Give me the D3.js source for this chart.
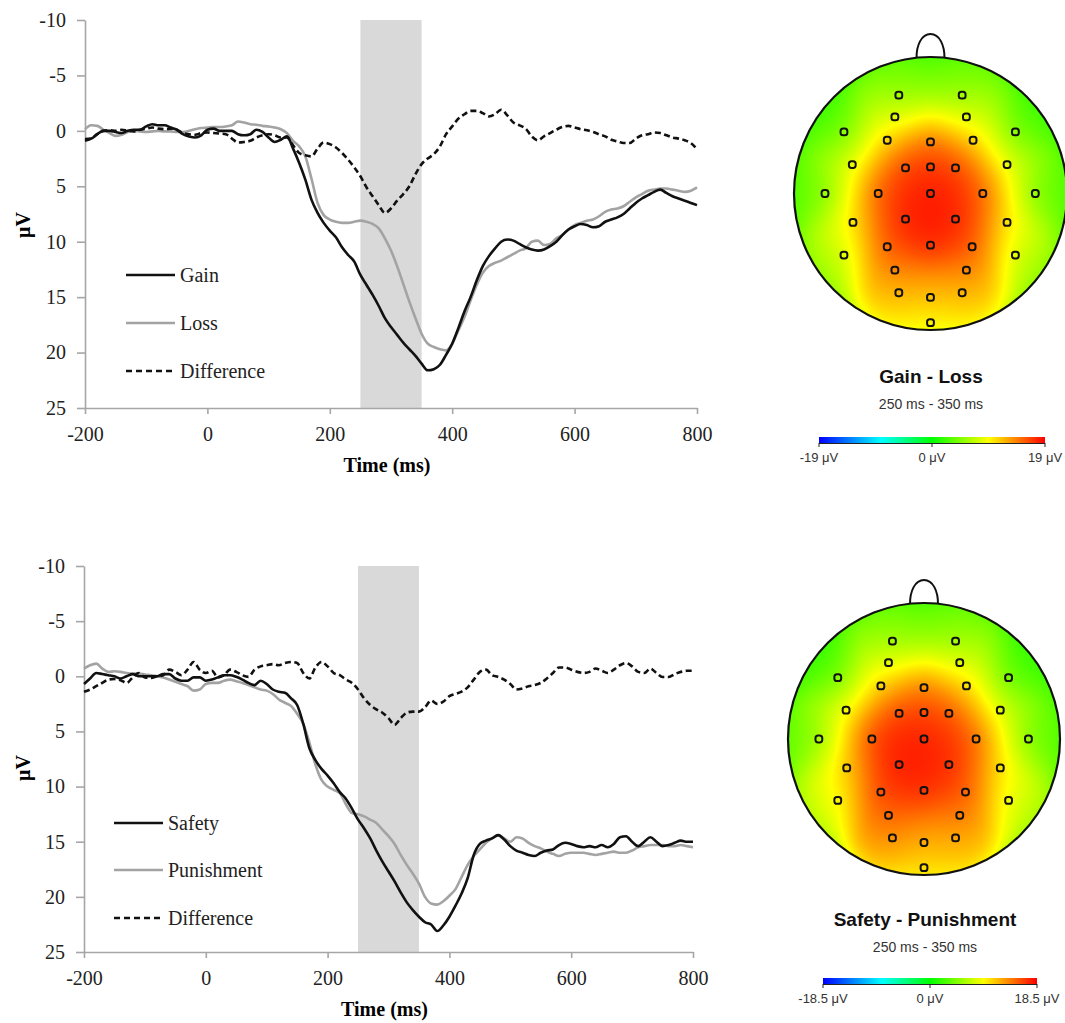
<!DOCTYPE html>
<html>
<head>
<meta charset="utf-8">
<script src="https://cdn.jsdelivr.net/npm/d3@7"></script>
<style>
  body { margin: 0; background: #fff; }
</style>
</head>
<body>
<div id="fig"></div>
<script>
// sample times, every 10 ms
var times = d3.range(-200, 801, 10);

// ERP waveforms (μV)
var gain = [0.75,0.7,0.3,0,0,0.1,0.2,0,-0.1,-0.1,
  -0.4,-0.6,-0.5,-0.5,-0.3,-0.1,0.3,0.5,0.6,0.4,
  -0.1,-0.2,0,0,0,0.3,0.4,0.3,-0.1,0.1,
  0.6,1.0,0.8,0.5,1.6,2.9,4.4,6.2,7.4,8.3,
  9.0,9.6,10.5,11.2,11.8,13.0,13.9,14.8,15.8,16.9,
  17.7,18.4,19.1,19.7,20.3,21.0,21.6,21.5,21.1,20.2,
  19.2,17.8,16.3,15.0,13.5,12.2,11.3,10.6,10.0,9.8,
  9.9,10.2,10.5,10.7,10.8,10.7,10.4,10.0,9.4,8.9,
  8.6,8.4,8.5,8.7,8.6,8.2,8.0,7.8,7.5,7.0,
  6.5,6.1,5.8,5.5,5.3,5.6,5.9,6.1,6.3,6.5,
  6.7];
var loss = [-0.15,-0.5,-0.45,-0.1,0.2,0.45,0.35,0.1,0,0.05,
  0.1,0.05,0,0.05,0.05,0.1,0.1,0,-0.15,-0.25,
  -0.3,-0.35,-0.35,-0.4,-0.5,-0.85,-0.75,-0.6,-0.55,-0.45,
  -0.4,-0.3,-0.15,0.2,0.9,1.4,2.3,4.3,6.5,7.6,
  8.0,8.2,8.3,8.3,8.2,8.1,8.2,8.4,8.8,9.7,
  10.8,12.2,13.8,15.4,16.9,18.3,19.2,19.5,19.7,19.8,
  19.2,18.0,16.8,15.3,13.9,12.8,12.2,11.9,11.7,11.4,
  11.1,10.8,10.6,10.0,9.9,10.3,10.2,9.7,9.4,8.9,
  8.5,8.3,8.1,8.0,7.7,7.3,7.1,7.0,6.8,6.4,
  6.0,5.7,5.4,5.3,5.2,5.2,5.3,5.4,5.5,5.4,
  5.1];
var diffGL = [0.9,0.7,0.3,0,-0.05,0,-0.1,0,0.05,-0.1,
  -0.2,-0.3,-0.2,-0.15,-0.2,-0.1,0.2,0.3,0.35,0.2,
  0.15,0.2,0.25,0.3,0.7,1.05,1.0,0.9,0.6,0.4,
  0.3,0.4,0.6,0.6,1.3,2.0,2.2,2.3,1.6,1.05,
  1.2,1.5,2.0,2.6,3.3,4.1,5.1,5.9,6.7,7.4,
  7.0,6.3,5.7,5.0,3.9,3.0,2.5,2.1,1.4,0.3,
  -0.4,-1.1,-1.5,-1.8,-1.8,-1.6,-1.3,-1.5,-1.9,-1.4,
  -0.75,-0.5,-0.2,0.5,0.85,0.5,0.2,-0.1,-0.35,-0.45,
  -0.3,-0.15,-0.05,0.1,0.3,0.5,0.8,0.95,1.1,1.1,
  0.7,0.4,0.3,0.15,0.2,0.4,0.6,0.7,0.85,1.1,
  1.65];

var safety = [0.7,0.2,-0.3,-0.2,-0.1,0,0.2,0,-0.2,0,
  0,0,0,-0.2,-0.2,0.2,0.4,0.4,0.1,0.1,
  0.4,0.3,0.1,-0.1,-0.1,0.05,0.3,0.6,0.8,0.4,
  0.7,1.2,1.4,1.5,2.0,2.6,4.3,6.5,7.6,8.4,
  9.0,9.7,10.5,11.1,12.0,13.0,13.8,14.7,15.8,16.8,
  17.7,18.6,19.6,20.5,21.2,21.8,22.3,22.5,23.1,22.6,
  21.8,20.8,19.7,18.3,16.2,15.2,14.9,14.7,14.4,14.8,
  15.4,15.8,16.0,16.2,16.3,16.0,15.8,15.7,15.3,15.1,
  15.2,15.4,15.5,15.4,15.5,15.3,15.5,15.2,14.6,14.5,
  15.0,15.4,15.0,14.6,15.0,15.4,15.3,15.1,14.9,15.0,
  15.0];
var punishment = [-0.7,-1.0,-1.15,-0.7,-0.4,-0.45,-0.4,-0.3,-0.25,-0.25,
  -0.15,-0.1,0,0.1,0.3,0.5,0.7,0.9,1.3,1.2,
  0.7,0.6,0.6,0.4,0.3,0.45,0.6,0.8,1.0,1.2,
  1.3,1.6,2.1,2.4,2.7,3.4,4.3,6.0,8.0,9.4,
  10.0,10.3,10.6,11.6,12.4,12.5,12.7,13.0,13.3,13.9,
  14.5,15.2,16.2,17.1,17.9,18.8,20.0,20.6,20.7,20.4,
  19.9,19.3,18.2,17.1,16.3,15.7,15.1,14.7,14.4,14.7,
  15.0,14.6,14.7,15.1,15.4,15.6,15.9,16.1,16.3,16.1,
  16.0,16.0,16.0,16.1,16.2,16.1,16.0,15.9,16.0,16.0,
  15.8,15.5,15.4,15.3,15.3,15.3,15.4,15.4,15.3,15.4,
  15.5];
var diffSP = [1.4,1.2,0.9,0.6,0.3,0.25,0.35,0.6,0.1,-0.3,
  0.1,0.15,0,-0.1,-0.6,-0.4,-0.1,-0.6,-1.3,-0.6,
  -0.3,-0.5,0.1,-0.1,-0.6,-0.4,-0.1,0.05,-0.6,-0.9,
  -1.0,-1.1,-1.0,-1.2,-1.3,-1.2,-0.3,0.2,-0.8,-1.3,
  -0.9,-0.3,-0.1,0.3,0.6,1.2,2.0,2.6,3.0,3.3,
  3.8,4.4,3.8,3.3,3.2,3.2,2.8,2.2,2.5,2.3,
  1.8,1.6,1.4,1.0,0.3,-0.4,-0.6,-0.1,0.06,0.3,
  0.7,1.2,1.1,0.9,0.8,0.6,0.2,-0.3,-0.8,-0.8,
  -0.6,-0.4,-0.3,-0.4,-0.7,-0.5,-0.3,-0.6,-1.0,-1.2,
  -0.9,-0.4,-0.3,-0.7,-0.3,0.06,0.06,-0.2,-0.4,-0.5,
  -0.5];

var xTicks = [-200, 0, 200, 400, 600, 800];
var yTicks = [-10, -5, 0, 5, 10, 15, 20, 25];
var analysisWindow = [250, 350];

// electrode layout (unit head circle, x right, y down)
var montage = [[-0.232,-0.720],[0.232,-0.720],[-0.261,-0.561],[0.263,-0.561],
  [-0.634,-0.451],[0.622,-0.451],[-0.317,-0.390],[0,-0.378],[0.312,-0.390],
  [-0.573,-0.212],[-0.183,-0.188],[0,-0.195],[0.183,-0.188],[0.561,-0.212],
  [-0.773,0],[-0.383,0],[0,0],[0.383,0],[0.768,0],
  [-0.568,0.212],[-0.183,0.188],[0.183,0.188],[0.561,0.212],
  [-0.634,0.451],[-0.317,0.390],[0,0.378],[0.305,0.390],[0.622,0.451],
  [-0.261,0.561],[0.263,0.561],[-0.232,0.727],[0,0.761],[0.232,0.727],[0,0.946]];

// mean amplitude 250-350 ms at each electrode (μV)
var topoGainLoss = [4,4,8.5,8.5,2.5,2.5,12,14,12,
  9.5,18,18.5,18,9.5,
  3.5,17,19,17,3.5,
  11,19,19,11,
  6.5,17.5,19,17.5,6.5,
  14.5,14.5,11.5,14,11.5,8];
var topoSafetyPun = [4,4,8.5,8.5,2,2,12,13,11.5,
  10,17.5,17.5,16.5,8.5,
  4,18,18.5,16.5,3.5,
  11.5,18.5,18,10.5,
  8,18,18,17,7.5,
  15.5,14.5,13,14,12,9];

var W = 1065, H = 1023;
var svg = d3.select("#fig").append("svg")
  .attr("width", W).attr("height", H)
  .style("font-family", "'Liberation Serif', 'Times New Roman', serif");

var axisGray = "#a6a6a6";
var plain = function (d) { return String(d); };

function erpPanel(p) {
  var x = d3.scaleLinear().domain([-200, 800]).range([p.left, p.right]);
  var y = d3.scaleLinear().domain([-10, 25]).range([p.top, p.bottom]);
  var g = svg.append("g");

  // shaded analysis window
  g.append("rect")
    .attr("x", x(analysisWindow[0])).attr("y", y(-10))
    .attr("width", x(analysisWindow[1]) - x(analysisWindow[0]))
    .attr("height", y(25) - y(-10))
    .attr("fill", "#d9d9d9");

  var xa = g.append("g").attr("transform", "translate(0," + p.bottom + ")")
    .call(d3.axisBottom(x).tickValues(xTicks).tickFormat(plain)
      .tickSize(6).tickSizeOuter(0).tickPadding(13));
  var ya = g.append("g").attr("transform", "translate(" + p.left + ",0)")
    .call(d3.axisLeft(y).tickValues(yTicks).tickFormat(plain)
      .tickSize(8).tickSizeOuter(0).tickPadding(11));
  [xa, ya].forEach(function (a) {
    a.selectAll("path, line").attr("stroke", axisGray).attr("stroke-width", 1.6);
    a.selectAll("text").attr("font-size", 20).attr("fill", "#222")
      .attr("font-family", "'Liberation Serif', serif");
  });

  g.append("text")
    .attr("x", (p.left + p.right) / 2 - 4).attr("y", p.bottom + 64)
    .attr("text-anchor", "middle").attr("font-weight", "bold").attr("font-size", 20)
    .text("Time (ms)");
  g.append("text")
    .attr("transform", "translate(" + 30 + "," + p.ylabY + ") rotate(-90)")
    .attr("text-anchor", "middle").attr("font-weight", "bold").attr("font-size", 20)
    .text("μV");

  var line = d3.line()
    .x(function (d, i) { return x(times[i]); })
    .y(function (d) { return y(d); })
    .curve(d3.curveMonotoneX);

  // series: [condition A (black), condition B (gray), difference (dashed)]
  var styles = [
    { stroke: "#111", dash: null },
    { stroke: "#a3a3a3", dash: null },
    { stroke: "#111", dash: "6,3.5" }
  ];
  [1, 0, 2].forEach(function (k) {
    g.append("path").datum(p.series[k])
      .attr("fill", "none")
      .attr("stroke", styles[k].stroke)
      .attr("stroke-width", 2.6)
      .attr("stroke-dasharray", styles[k].dash)
      .attr("d", line);
  });

  // legend
  var lg = g.append("g");
  p.labels.forEach(function (lab, k) {
    var ly = p.legY[k];
    lg.append("line")
      .attr("x1", p.legX).attr("x2", p.legX + 49)
      .attr("y1", ly).attr("y2", ly)
      .attr("stroke", styles[k].stroke)
      .attr("stroke-width", 2.4)
      .attr("stroke-dasharray", k === 2 ? "6,4" : null);
    lg.append("text")
      .attr("x", p.legX + 54).attr("y", ly + 7)
      .attr("font-size", 20).attr("fill", "#222")
      .text(lab);
  });
}

erpPanel({
  left: 85, right: 697, top: 20, bottom: 408, ylabY: 225,
  series: [gain, loss, diffGL],
  labels: ["Gain", "Loss", "Difference"],
  legX: 126, legY: [275, 323, 371]
});
erpPanel({
  left: 84, right: 693, top: 566, bottom: 952, ylabY: 768,
  series: [safety, punishment, diffSP],
  labels: ["Safety", "Punishment", "Difference"],
  legX: 114, legY: [823, 870, 918]
});

// jet-like colour map on [-1, 1]
var jetStops = [-1, -0.45, 0, 0.5, 1];
var jetCols = ["#0000ff", "#00ffff", "#00ff00", "#ffff00", "#ff0000"];
var jet = d3.scaleLinear().domain(jetStops).range(jetCols).clamp(true);

var defs = svg.append("defs");
var grad = defs.append("linearGradient").attr("id", "jetgrad");
jetStops.forEach(function (s, i) {
  grad.append("stop").attr("offset", ((s + 1) / 2 * 100) + "%").attr("stop-color", jetCols[i]);
});

function topoPanel(p) {
  var r = p.r, n = Math.ceil(2 * r);
  var canvas = document.createElement("canvas");
  canvas.width = n; canvas.height = n;
  var ctx = canvas.getContext("2d");
  var img = ctx.createImageData(n, n);
  var s2 = 2 * 0.17 * 0.17, prior = 0.12;
  for (var j = 0; j < n; j++) {
    for (var i = 0; i < n; i++) {
      var px = (i + 0.5 - r) / r, py = (j + 0.5 - r) / r;
      var num = 0, den = prior;
      for (var k = 0; k < montage.length; k++) {
        var dx = px - montage[k][0], dy = py - montage[k][1];
        var w = Math.exp(-(dx * dx + dy * dy) / s2);
        num += w * p.values[k]; den += w;
      }
      var c = d3.rgb(jet(num / den / p.max));
      var o = 4 * (j * n + i);
      img.data[o] = c.r; img.data[o + 1] = c.g; img.data[o + 2] = c.b; img.data[o + 3] = 255;
    }
  }
  ctx.putImageData(img, 0, 0);

  var g = svg.append("g");
  var cid = "clip" + p.id;
  defs.append("clipPath").attr("id", cid)
    .append("circle").attr("cx", p.cx).attr("cy", p.cy).attr("r", r);
  g.append("image")
    .attr("href", canvas.toDataURL())
    .attr("x", p.cx - r).attr("y", p.cy - r)
    .attr("width", n).attr("height", n)
    .attr("clip-path", "url(#" + cid + ")");

  // nose
  var t = p.cy - r;
  g.append("path")
    .attr("d", "M" + (p.cx - 14) + "," + (t + 1) +
      " C" + (p.cx - 14) + "," + (t - 12) + " " + (p.cx - 9) + "," + (t - 23) + " " + p.cx + "," + (t - 23) +
      " C" + (p.cx + 9) + "," + (t - 23) + " " + (p.cx + 14) + "," + (t - 12) + " " + (p.cx + 14) + "," + (t + 1))
    .attr("fill", "none").attr("stroke", "#111").attr("stroke-width", 2);
  g.append("circle").attr("cx", p.cx).attr("cy", p.cy).attr("r", r)
    .attr("fill", "none").attr("stroke", "#111").attr("stroke-width", 2.2);

  g.selectAll(".el").data(montage).enter().append("rect")
    .attr("x", function (d) { return p.cx + d[0] * r - 3.4; })
    .attr("y", function (d) { return p.cy + d[1] * r - 3.4; })
    .attr("width", 6.8).attr("height", 6.8).attr("rx", 2.6)
    .attr("fill", "none").attr("stroke", "#111").attr("stroke-width", 2);

  var f = "'Liberation Sans', Arial, sans-serif";
  g.append("text").attr("x", p.tx).attr("y", p.titleY)
    .attr("text-anchor", "middle").attr("font-family", f).attr("font-weight", "bold")
    .attr("font-size", 19).attr("fill", "#111").text(p.title);
  g.append("text").attr("x", p.tx).attr("y", p.titleY + 26)
    .attr("text-anchor", "middle").attr("font-family", f)
    .attr("font-size", 14).attr("fill", "#333").text("250 ms - 350 ms");

  // colour bar
  var cb = d3.scaleLinear().domain([-p.max, p.max]).range([p.cbX0, p.cbX1]);
  g.append("rect").attr("x", p.cbX0).attr("y", p.cbY)
    .attr("width", p.cbX1 - p.cbX0).attr("height", 6).attr("fill", "url(#jetgrad)");
  g.append("line").attr("x1", p.cbX0).attr("x2", p.cbX1)
    .attr("y1", p.cbY + 6.5).attr("y2", p.cbY + 6.5).attr("stroke", "#222").attr("stroke-width", 1);
  var tv = [-p.max, 0, p.max];
  g.selectAll(".cbt").data(tv).enter().append("line")
    .attr("x1", function (d) { return cb(d); }).attr("x2", function (d) { return cb(d); })
    .attr("y1", p.cbY + 6).attr("y2", p.cbY + 10)
    .attr("stroke", "#222").attr("stroke-width", 1);
  g.selectAll(".cbl").data(tv).enter().append("text")
    .attr("x", function (d) { return cb(d); }).attr("y", p.cbY + 25)
    .attr("text-anchor", "middle").attr("font-family", f)
    .attr("font-size", 13).attr("fill", "#333")
    .text(function (d) { return d + " μV"; });
}

topoPanel({ id: "a", cx: 930.5, cy: 193.5, r: 136.5, values: topoGainLoss, max: 19,
  title: "Gain - Loss", tx: 931, titleY: 383, cbX0: 819, cbX1: 1045, cbY: 437 });
topoPanel({ id: "b", cx: 924, cy: 739, r: 136, values: topoSafetyPun, max: 18.5,
  title: "Safety - Punishment", tx: 925, titleY: 926, cbX0: 823, cbX1: 1037, cbY: 978 });
</script>
</body>
</html>
